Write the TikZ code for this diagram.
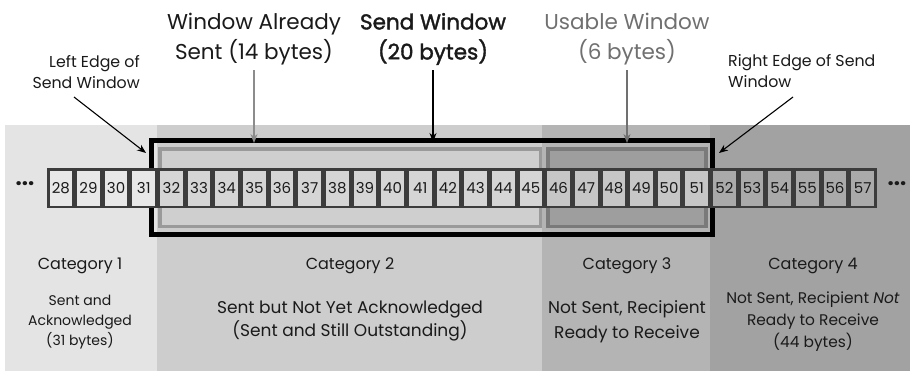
\documentclass[tikz,border=0pt]{standalone}
\usepackage{fontspec}
\setmainfont{Poppins}
\newfontfamily\semibold[FakeBold=1.6]{Poppins}
\usetikzlibrary{arrows.meta}
\definecolor{bandA}{HTML}{E4E4E4}
\definecolor{bandB}{HTML}{CDCDCD}
\definecolor{bandC}{HTML}{B4B4B4}
\definecolor{bandD}{HTML}{A2A2A2}
\definecolor{cellA}{HTML}{E8E8E8}
\definecolor{cellB}{HTML}{D5D5D5}
\definecolor{cellC}{HTML}{C6C6C6}
\definecolor{cellD}{HTML}{AAAAAA}
\definecolor{celldark}{HTML}{3C3C3C}
\definecolor{sentfill}{HTML}{CFCFCF}
\definecolor{sentline}{HTML}{9A9A9A}
\definecolor{usefill}{HTML}{9E9E9E}
\definecolor{useline}{HTML}{7A7A7A}
\definecolor{txt}{HTML}{1A1A1A}
\definecolor{graytxt}{HTML}{707070}
\definecolor{grayarrow}{HTML}{8C8C8C}
\begin{document}
\begin{tikzpicture}[x=1pt,y=-1pt,
  cell/.style={draw=celldark, line width=2.5pt, inner sep=0pt,
    minimum width=25.15pt, minimum height=37.5pt, text=txt,
    font=\fontsize{15}{15}\selectfont},
  toplabel/.style={align=center, text=txt, inner sep=0pt,
    font=\fontsize{21.5}{30}\selectfont},
  sidelabel/.style={text=txt, inner sep=0pt,
    font=\fontsize{15.8}{21}\selectfont},
  cattitle/.style={text=txt, inner sep=0pt,
    font=\fontsize{16}{16}\selectfont},
  catdesc/.style={align=center, text=txt, inner sep=0pt},
  arr/.style={-{Stealth[length=9pt,width=7pt]}, line width=1.1pt},
  dots/.style={text=txt, inner sep=0pt, font=\fontsize{22}{22}\selectfont\bfseries}
]
\useasboundingbox (0,0) rectangle (910,373);
\fill[white] (0,0) rectangle (910,373);
% category bands
\fill[bandA] (5,125) rectangle (157,371);
\fill[bandB] (157,125) rectangle (542,371);
\fill[bandC] (542,125) rectangle (710,371);
\fill[bandD] (710,125) rectangle (910,371);
% window frames
\draw[line width=4.5pt, black] (151.5,140.5) rectangle (712.5,234.5);
\filldraw[fill=sentfill, draw=sentline, line width=3.5pt] (160,149) rectangle (540.5,226.5);
\filldraw[fill=usefill, draw=useline, line width=3.5pt] (548,149) rectangle (706,226.5);
% byte cells
\foreach \i in {28,...,31} {
  \node[cell, fill=cellA] (c\i) at ({47+(\i-28)*27.65+13.825},188) {\i};
}
\foreach \i in {32,...,45} {
  \node[cell, fill=cellB] (c\i) at ({47+(\i-28)*27.65+13.825},188) {\i};
}
\foreach \i in {46,...,51} {
  \node[cell, fill=cellC] (c\i) at ({47+(\i-28)*27.65+13.825},188) {\i};
}
\foreach \i in {52,...,57} {
  \node[cell, fill=cellD] (c\i) at ({47+(\i-28)*27.65+13.825},188) {\i};
}
\node[dots] (dl) at (25,184) {...};
\node[dots] (dr) at (897,184) {...};
% top labels
\node[toplabel] (already) at (254,39) {Window Already\\Sent (14 bytes)};
\node[toplabel, font=\fontsize{21.5}{30}\semibold] (send) at (433,39) {Send Window\\(20 bytes)};
\node[toplabel, text=graytxt] (usable) at (627,39) {Usable Window\\(6 bytes)};
\node[sidelabel, align=right, anchor=east] (leftedge) at (140,72) {Left Edge of\\Send Window};
\node[sidelabel, align=left, anchor=west] (rightedge) at (728,71) {Right Edge of Send\\Window};
% arrow coordinates
\coordinate (leS) at (74,97);
\coordinate (leE) at (146,153);
\coordinate (reS) at (793,97);
\coordinate (reE) at (719,153);
\coordinate (alE) at (254,143);
\coordinate (swE) at (433,142);
\coordinate (uwE) at (627,143);
\draw[arr] (leS) -- (leE);
\draw[arr] (reS) -- (reE);
\draw[arr, grayarrow] ([yshift=-5pt]already.south) -- (alE);
\draw[arr] ([yshift=-5pt]send.south) -- (swE);
\draw[arr, graytxt] ([yshift=-5pt]usable.south) -- (uwE);
% categories
\node[cattitle] (cat1) at (80,266) {Category 1};
\node[cattitle] (cat2) at (350,266) {Category 2};
\node[cattitle] (cat3) at (627,266) {Category 3};
\node[cattitle] (cat4) at (813,266) {Category 4};
\node[catdesc, font=\fontsize{14}{20}\selectfont] (d1) at (80,322) {Sent and\\Acknowledged\\(31 bytes)};
\node[catdesc, font=\fontsize{17}{23}\selectfont] (d2) at (350,321) {Sent but Not Yet Acknowledged\\(Sent and Still Outstanding)};
\node[catdesc, font=\fontsize{17}{25}\selectfont] (d3) at (627,322) {Not Sent, Recipient\\Ready to Receive};
\node[catdesc, font=\fontsize{15.4}{22}\selectfont] (d4) at (813,322) {Not Sent, Recipient \emph{Not}\\Ready to Receive\\(44 bytes)};
\end{tikzpicture}
\end{document}
